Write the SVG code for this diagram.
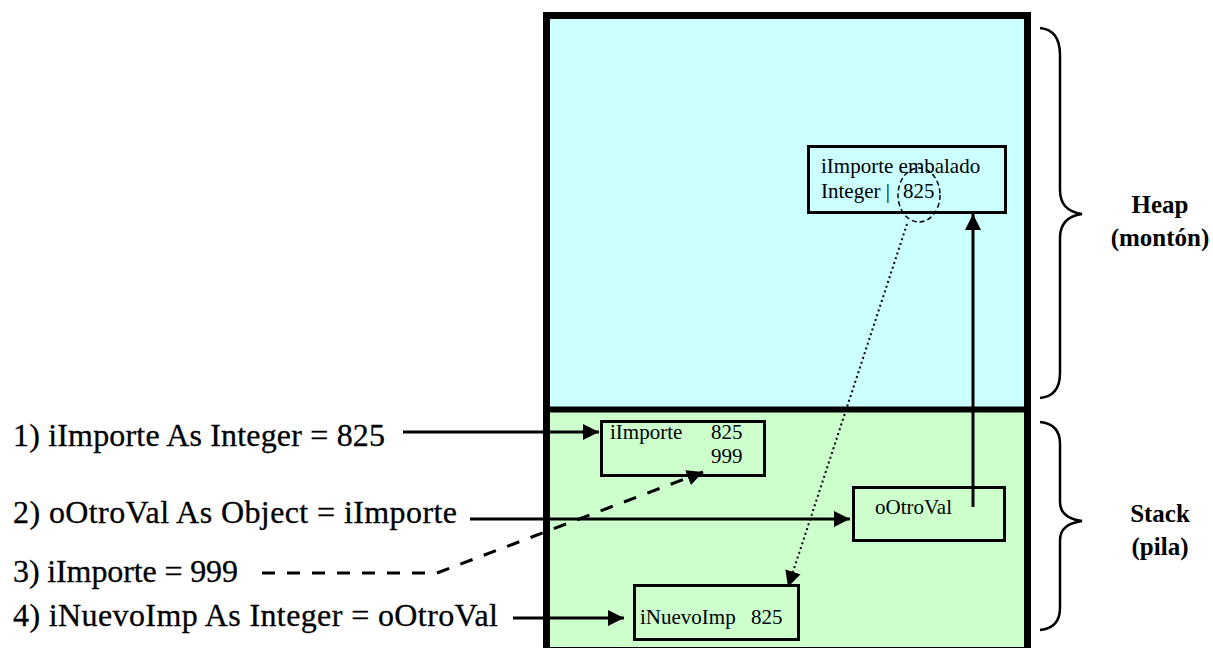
<svg xmlns="http://www.w3.org/2000/svg" width="1213" height="648" viewBox="0 0 1213 648">
  <style>
    .code { font-family: "Liberation Serif", "Times New Roman", serif; font-size: 32px; fill: #000; stroke: #000; stroke-width: 0.3; }
    .cell { font-family: "Liberation Serif", "Times New Roman", serif; font-size: 21px; fill: #000; }
    .region { font-family: "Liberation Serif", "Times New Roman", serif; font-size: 25px; font-weight: bold; fill: #000; text-anchor: middle; }
    .box { fill: none; stroke: #000; stroke-width: 3; }
    .wire { fill: none; stroke: #000; stroke-width: 3; }
    .brace { fill: none; stroke: #000; stroke-width: 2.5; }
  </style>
  <defs>
    <marker id="head" markerUnits="userSpaceOnUse" markerWidth="18" markerHeight="16" refX="16" refY="8" orient="auto">
      <path d="M0,0 L16,8 L0,16 Z" fill="#000"/>
    </marker>
  </defs>

  <rect width="1213" height="648" fill="#fff"/>

  <!-- memory areas -->
  <g id="heap">
    <rect x="546.5" y="15.5" width="481" height="394" fill="#ccffff"/>
  </g>
  <g id="stack">
    <rect x="546.5" y="409.5" width="481" height="241" fill="#ccffcc"/>
  </g>
  <g id="frame">
    <rect x="546.5" y="15.5" width="481" height="635" fill="none" stroke="#000" stroke-width="7"/>
    <line x1="546.5" y1="409.5" x2="1027.5" y2="409.5" stroke="#000" stroke-width="6"/>
  </g>

  <!-- braces and region labels -->
  <g id="heap-label">
    <path class="brace" d="M1040,28 Q1060,30 1060,55 L1060,190 Q1060,211 1082,214 Q1060,217 1060,238 L1060,373 Q1060,396 1040,398"/>
    <text class="region" x="1160" y="213">Heap</text>
    <text class="region" x="1160" y="246">(montón)</text>
  </g>
  <g id="stack-label">
    <path class="brace" d="M1040,422 Q1060,424 1060,444 L1060,502 Q1060,518 1082,521 Q1060,524 1060,540 L1060,608 Q1060,628 1040,630"/>
    <text class="region" x="1160" y="522">Stack</text>
    <text class="region" x="1160" y="555">(pila)</text>
  </g>

  <!-- code statements -->
  <g id="stmt1"><text class="code" x="13" y="446" textLength="372" lengthAdjust="spacing">1) iImporte As Integer = 825</text></g>
  <g id="stmt2"><text class="code" x="13" y="523" textLength="444" lengthAdjust="spacing">2) oOtroVal As Object = iImporte</text></g>
  <g id="stmt3"><text class="code" x="13" y="582" textLength="225" lengthAdjust="spacing">3) iImporte = 999</text></g>
  <g id="stmt4"><text class="code" x="13" y="626" textLength="485" lengthAdjust="spacing">4) iNuevoImp As Integer = oOtroVal</text></g>

  <!-- boxed value in the heap -->
  <g id="boxed">
    <rect class="box" x="808.5" y="146.5" width="197" height="66" fill="#ccffff"/>
    <text class="cell" x="821" y="173">iImporte embalado</text>
    <text class="cell" x="821" y="198">Integer |</text>
    <text class="cell" x="903" y="198">825</text>
    <ellipse cx="919" cy="195" rx="21" ry="27" fill="none" stroke="#000" stroke-width="1.5" stroke-dasharray="5 3"/>
  </g>

  <!-- stack variables -->
  <g id="iImporte">
    <rect class="box" x="601.5" y="421.5" width="163" height="54"/>
    <text class="cell" x="610" y="439">iImporte</text>
    <text class="cell" x="711" y="439">825</text>
    <text class="cell" x="711" y="463">999</text>
  </g>
  <g id="oOtroVal">
    <rect class="box" x="853.5" y="487.5" width="151" height="53"/>
    <text class="cell" x="875" y="514">oOtroVal</text>
  </g>
  <g id="iNuevoImp">
    <rect class="box" x="634.5" y="585.5" width="164" height="54"/>
    <text class="cell" x="640" y="624">iNuevoImp</text>
    <text class="cell" x="751" y="624">825</text>
  </g>

  <!-- connectors -->
  <g id="connectors">
    <line class="wire" x1="403" y1="432" x2="599" y2="432" marker-end="url(#head)"/>
    <line class="wire" x1="470" y1="519" x2="850" y2="519" marker-end="url(#head)"/>
    <line class="wire" x1="513" y1="618" x2="624" y2="618" marker-end="url(#head)"/>
    <line class="wire" x1="973" y1="507" x2="973" y2="214" marker-end="url(#head)"/>
    <path class="wire" d="M262,573 L437,573 L703,472" stroke-dasharray="13 12" marker-end="url(#head)"/>
    <line x1="907" y1="224" x2="788" y2="587" fill="none" stroke="#000" stroke-width="2" stroke-dasharray="2 3" marker-end="url(#head)"/>
  </g>
</svg>
